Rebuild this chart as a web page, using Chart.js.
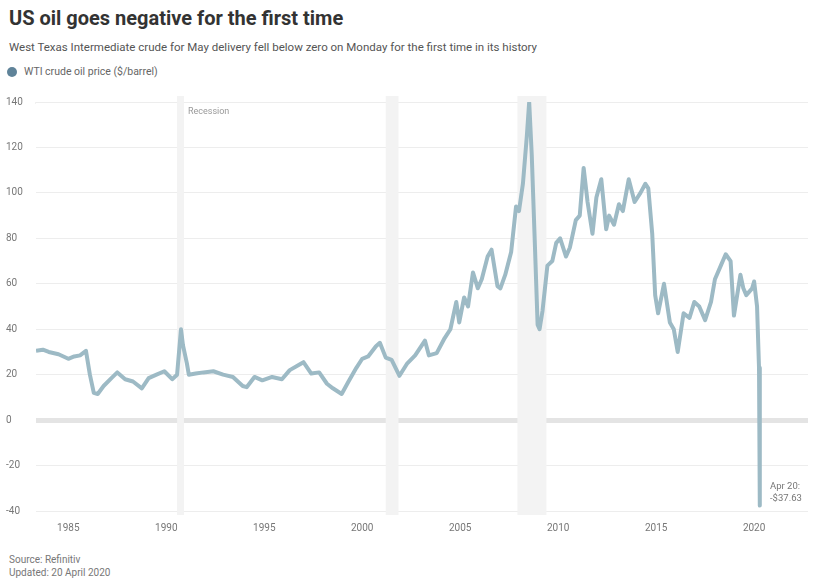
<!DOCTYPE html>
<html>
<head>
<meta charset="utf-8">
<script src="https://cdn.jsdelivr.net/npm/chart.js@4"></script>
<style>
    body {
        margin: 0;
        width: 836px;
        height: 585px;
        background: #fff;
        font-family: Roboto, "Open Sans", sans-serif;
        position: relative;
        overflow: hidden;
    }
    #title {
        position: absolute;
        left: 9px;
        top: 6px;
        font-size: 20px;
        font-weight: bold;
        color: #333;
    }
    #subtitle {
        position: absolute;
        left: 9px;
        top: 40px;
        font-size: 11.5px;
        color: #555;
    }
    #legend {
        position: absolute;
        left: 7px;
        top: 65px;
        font-size: 10.5px;
        color: #666;
        display: flex;
        align-items: center;
    }
    #legend span {
        width: 10px;
        height: 10px;
        border-radius: 50%;
        background: #5f8399;
        margin-right: 7px;
    }
    #source {
        position: absolute;
        left: 9px;
        top: 553px;
        font-size: 10px;
        line-height: 13px;
        color: #777;
    }
    #wrap {
        position: absolute;
        left: 0;
        top: 90px;
        width: 836px;
        height: 450px;
    }
</style>
</head>
<body>
<div id="title">US oil goes negative for the first time</div>
<div id="subtitle">West Texas Intermediate crude for May delivery fell below zero on Monday for the first time in its history</div>
<div id="legend"><span></span>WTI crude oil price ($/barrel)</div>
<div id="wrap"><canvas id="chart"></canvas></div>
<div id="source">Source: Refinitiv<br>Updated: 20 April 2020</div>

<script>
// дані
const years = [
    1983.35, 1983.7, 1984.0, 1984.5, 1985.0, 1985.3, 1985.6, 1985.9,
    1986.1, 1986.3, 1986.5, 1986.8, 1987.2, 1987.5, 1987.9, 1988.3, 1988.75,
    1989.1, 1989.5, 1989.9, 1990.3, 1990.55, 1990.75, 1990.85, 1991.05, 1991.15,
    1991.5, 1991.9, 1992.4, 1992.9, 1993.4, 1993.9, 1994.1, 1994.5, 1994.9,
    1995.4, 1995.9, 1996.3, 1996.8, 1997.0, 1997.4, 1997.8, 1998.2, 1998.5, 1998.95,
    1999.3, 1999.7, 2000.0, 2000.3, 2000.7, 2000.9, 2001.2, 2001.5, 2001.9,
    2002.3, 2002.7, 2003.2, 2003.4, 2003.8, 2004.2, 2004.5, 2004.8, 2004.95,
    2005.2, 2005.4, 2005.65, 2005.9, 2006.1, 2006.4, 2006.6, 2006.9, 2007.05,
    2007.3, 2007.6, 2007.85, 2008.0, 2008.2, 2008.4, 2008.52, 2008.65, 2008.8,
    2008.95, 2009.05, 2009.2, 2009.45, 2009.7, 2009.9, 2010.1, 2010.4, 2010.6,
    2010.9, 2011.1, 2011.3, 2011.5, 2011.75, 2011.95, 2012.2, 2012.45, 2012.6,
    2012.85, 2013.1, 2013.3, 2013.6, 2013.9, 2014.2, 2014.45, 2014.6, 2014.8,
    2014.95, 2015.1, 2015.4, 2015.7, 2015.9, 2016.1, 2016.4, 2016.7, 2016.95,
    2017.2, 2017.5, 2017.8, 2018.0, 2018.3, 2018.55, 2018.8, 2018.97, 2019.3,
    2019.45, 2019.6, 2019.9, 2020.0, 2020.15, 2020.25, 2020.28, 2020.3
];
const prices = [
    30.5, 31, 30, 29, 27, 28, 28.5, 30.5,
    20, 12, 11.5, 15, 18.5, 21, 18, 17, 14,
    18.5, 20, 21.5, 18, 20, 40, 33, 25, 20,
    20.5, 21, 21.5, 20, 19, 15, 14.5, 19, 17.5,
    19, 18, 22, 24.5, 25.5, 20.5, 21, 16, 14, 11.5,
    17, 23, 27, 28, 32.5, 34, 27.5, 26.5, 19.5,
    25, 28.5, 35, 28.5, 29.5, 36, 40, 52, 43,
    54, 50, 65, 58, 62, 72, 75, 59, 58,
    64, 74, 94, 92, 104, 125, 140, 117, 80,
    42, 40, 48, 68, 70, 78, 80, 72, 76,
    88, 90, 111, 96, 82, 98, 106, 84, 90,
    86, 95, 92, 106, 96, 100, 104, 102, 82,
    55, 47, 60, 43, 40, 30, 47, 45, 52,
    50, 44, 52, 62, 68, 73, 70, 46, 64,
    58, 55, 58, 61, 50, 23, 20, -37.63
];

// рецесії США
const recessionStarts = [1990.55, 2001.2, 2007.92];
const recessionEnds = [1990.9, 2001.85, 2009.4];

const yTicks = [140, 120, 100, 80, 60, 40, 20, 0, -20, -40];
const xTicks = [1985, 1990, 1995, 2000, 2005, 2010, 2015, 2020];

const points = years.map((y, i) => ({ x: y, y: prices[i] }));

// смуги рецесій
const bandsPlugin = {
    id: "bands",
    beforeDatasetsDraw(chart) {
        const { ctx, chartArea, scales } = chart;
        ctx.save();
        ctx.fillStyle = "#f3f3f3";
        recessionStarts.forEach((s, i) => {
            const x1 = scales.x.getPixelForValue(s);
            const x2 = scales.x.getPixelForValue(recessionEnds[i]);
            ctx.fillRect(x1, chartArea.top - 6, x2 - x1, chartArea.bottom - chartArea.top + 10);
        });
        ctx.fillStyle = "#999";
        ctx.font = "9px Roboto";
        ctx.textBaseline = "middle";
        ctx.fillText("Recession", scales.x.getPixelForValue(recessionEnds[0]) + 4, chartArea.top + 10);
        ctx.restore();
    }
};

// підпис останнього значення
const endLabelPlugin = {
    id: "endLabel",
    afterDatasetsDraw(chart) {
        const { ctx, scales } = chart;
        const last = prices.length - 1;
        const x = scales.x.getPixelForValue(years[last]);
        const y = scales.y.getPixelForValue(prices[last]);
        ctx.save();
        ctx.fillStyle = "#777";
        ctx.font = "9.5px Roboto";
        ctx.textBaseline = "middle";
        ctx.fillText("Apr 20:", x + 10, y - 19);
        ctx.fillText("-$37.63", x + 10, y - 7);
        ctx.restore();
    }
};

new Chart(document.getElementById("chart"), {
    type: "line",
    data: {
        datasets: [{
            data: points,
            borderColor: "#9dbac5",
            borderWidth: 4,
            pointRadius: 0,
            tension: 0,
            borderJoinStyle: "round"
        }]
    },
    options: {
        responsive: true,
        maintainAspectRatio: false,
        animation: false,
        layout: {
            padding: { left: 6, right: 28, top: 12, bottom: 0 }
        },
        plugins: {
            legend: { display: false },
            tooltip: { enabled: false }
        },
        scales: {
            x: {
                type: "linear",
                min: 1983.35,
                max: 2022.75,
                grid: { display: false },
                border: { display: false },
                afterBuildTicks: (scale) => {
                    scale.ticks = xTicks.map(v => ({ value: v }));
                },
                afterFit: (scale) => { scale.height = 29; },
                ticks: {
                    padding: 3,
                    color: "#777",
                    font: { family: "Roboto", size: 10 },
                    maxRotation: 0,
                    callback: (v) => String(v)
                }
            },
            y: {
                min: -40,
                max: 140,
                afterBuildTicks: (scale) => {
                    scale.ticks = yTicks.map(v => ({ value: v }));
                },
                afterFit: (scale) => { scale.width = 30; },
                border: { display: false },
                grid: {
                    drawTicks: false,
                    color: (c) => c.tick && c.tick.value === 0 ? "#e4e4e4" : "#ededed",
                    lineWidth: (c) => c.tick && c.tick.value === 0 ? 5 : 1
                },
                ticks: {
                    crossAlign: "far",
                    color: "#777",
                    font: { family: "Roboto", size: 10 },
                    callback: (v) => v === 140 ? "140     $/barrel" : String(v)
                }
            }
        }
    },
    plugins: [bandsPlugin, endLabelPlugin]
});
</script>
</body>
</html>
